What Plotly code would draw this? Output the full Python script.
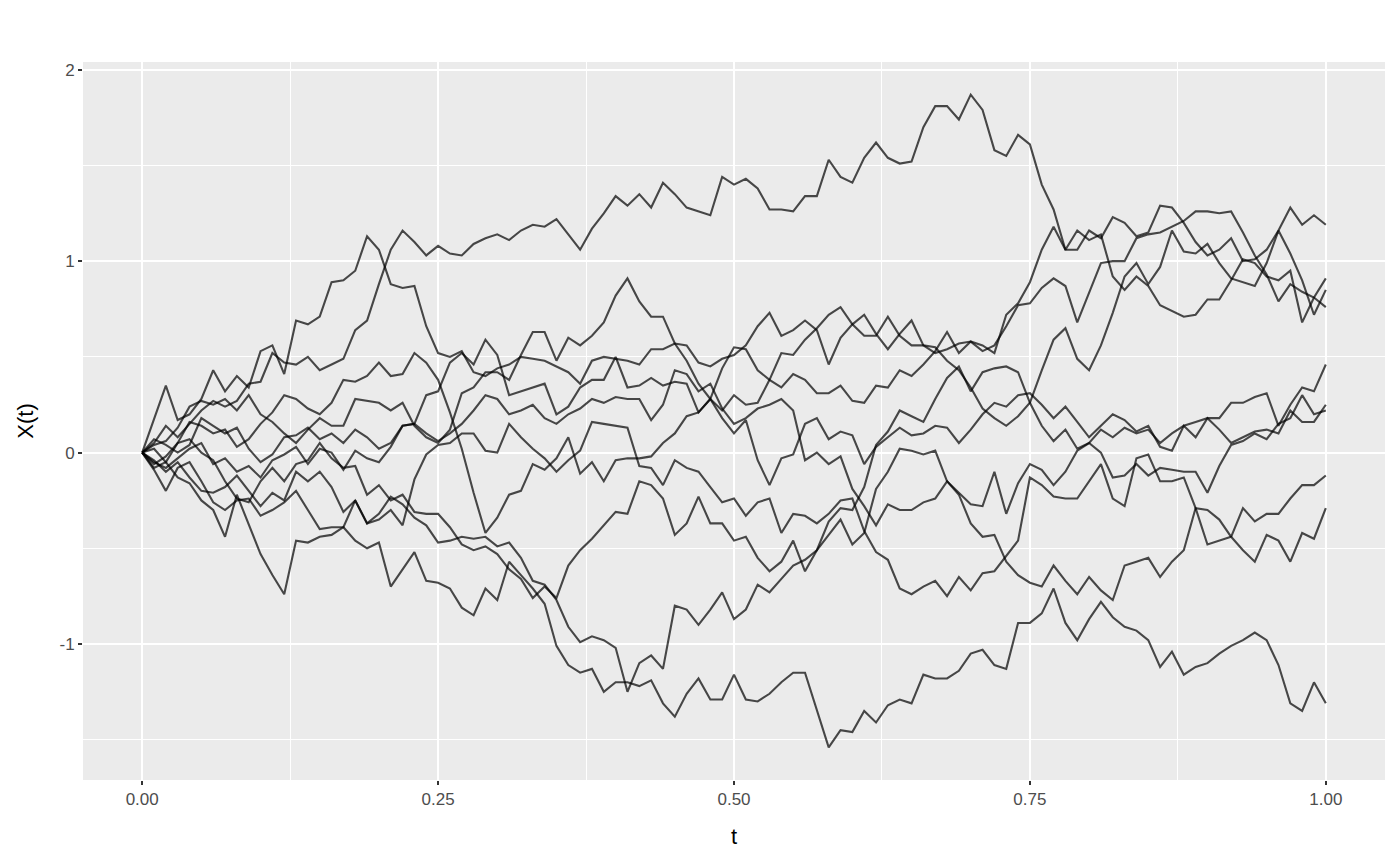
import plotly.graph_objects as go

# time grid
t = [i / 100 for i in range(101)]

path_01 = [0, 0.05, 0.14, 0.08, 0.15, 0.22, 0.27, 0.24, 0.27, 0.36, 0.37, 0.52, 0.47, 0.46, 0.50, 0.43,
           0.46, 0.49, 0.64, 0.69, 0.88, 1.06, 1.16, 1.10, 1.03, 1.08, 1.04, 1.03, 1.09, 1.12, 1.14, 1.11, 1.16, 1.19,
           1.18, 1.22, 1.14, 1.06, 1.17, 1.25, 1.34, 1.29, 1.35, 1.28, 1.41, 1.35, 1.28, 1.26, 1.24, 1.44, 1.40,
           1.43, 1.38, 1.27, 1.27, 1.26, 1.34, 1.34, 1.53, 1.44, 1.41, 1.54, 1.62, 1.54, 1.51, 1.52, 1.70, 1.81,
           1.81, 1.74, 1.87, 1.79, 1.58, 1.55, 1.66, 1.61, 1.40, 1.27, 1.06, 1.06, 1.16, 1.12, 1.23, 1.20, 1.13,
           1.15, 1.29, 1.28, 1.20, 1.10, 1.03, 1.06, 1.12, 1.00, 1.01, 1.06, 1.16, 1.28, 1.19, 1.24, 1.19]

path_02 = [0, 0.17, 0.35, 0.17, 0.20, 0.28, 0.43, 0.32, 0.40, 0.34, 0.53, 0.56, 0.41, 0.69, 0.67, 0.71,
           0.89, 0.90, 0.95, 1.13, 1.06, 0.88, 0.86, 0.87, 0.66, 0.52, 0.50, 0.53, 0.42, 0.40, 0.44, 0.46, 0.50, 0.49,
           0.48, 0.45, 0.42, 0.36, 0.48, 0.50, 0.49, 0.48, 0.46, 0.54, 0.54, 0.57, 0.56, 0.47, 0.45, 0.49, 0.51,
           0.56, 0.66, 0.73, 0.61, 0.64, 0.69, 0.64, 0.46, 0.60, 0.67, 0.72, 0.62, 0.54, 0.62, 0.69, 0.56, 0.55,
           0.48, 0.43, 0.34, 0.23, 0.18, 0.14, 0.19, 0.26, 0.43, 0.59, 0.65, 0.49, 0.43, 0.56, 0.73, 0.92, 0.99,
           0.88, 0.97, 1.16, 1.05, 1.04, 1.09, 0.99, 0.91, 0.89, 0.87, 0.99, 1.16, 1.04, 0.90, 0.72, 0.85]

path_03 = [0, 0.04, 0.06, 0.13, 0.24, 0.27, 0.25, 0.28, 0.22, 0.30, 0.20, 0.16, 0.10, 0.05, 0.12, 0.18,
           0.14, 0.14, 0.28, 0.27, 0.26, 0.22, 0.26, 0.14, 0.08, 0.05, 0.12, 0.31, 0.34, 0.42, 0.42, 0.38, 0.51, 0.63,
           0.63, 0.48, 0.60, 0.56, 0.61, 0.68, 0.82, 0.91, 0.79, 0.71, 0.71, 0.57, 0.48, 0.36, 0.28, 0.22, 0.30,
           0.25, 0.26, 0.38, 0.52, 0.51, 0.59, 0.65, 0.72, 0.76, 0.67, 0.61, 0.61, 0.71, 0.61, 0.56, 0.56, 0.52,
           0.54, 0.57, 0.58, 0.53, 0.56, 0.66, 0.77, 0.78, 0.86, 0.91, 0.87, 0.68, 0.84, 0.99, 1.00, 1.00, 1.12,
           1.14, 1.15, 1.18, 1.21, 1.26, 1.26, 1.25, 1.26, 1.15, 1.03, 0.93, 0.79, 0.88, 0.84, 0.81, 0.76]

path_04 = [0, -0.06, -0.02, 0.05, 0.16, 0.14, 0.10, 0.12, 0.03, 0.07, 0.15, 0.21, 0.30, 0.28, 0.23, 0.20,
           0.26, 0.38, 0.37, 0.40, 0.47, 0.40, 0.41, 0.52, 0.47, 0.38, 0.21, 0.02, -0.21, -0.42, -0.34, -0.22, -0.20, -0.06,
           -0.09, -0.03, 0.08, -0.11, -0.05, -0.15, -0.04, -0.03, -0.03, -0.02, 0.05, 0.10, 0.19, 0.21, 0.28, 0.44, 0.55,
           0.54, 0.43, 0.38, 0.34, 0.41, 0.38, 0.31, 0.31, 0.35, 0.27, 0.26, 0.35, 0.34, 0.43, 0.40, 0.46, 0.53,
           0.63, 0.52, 0.58, 0.56, 0.52, 0.72, 0.78, 0.89, 1.06, 1.18, 1.06, 1.16, 1.11, 1.14, 0.92, 0.85, 0.92,
           0.87, 0.77, 0.74, 0.71, 0.72, 0.80, 0.80, 0.90, 1.01, 0.99, 0.92, 0.90, 0.95, 0.68, 0.81, 0.91]

path_05 = [0, -0.08, -0.05, -0.13, -0.16, -0.25, -0.30, -0.44, -0.22, -0.38, -0.53, -0.64, -0.74, -0.46, -0.47, -0.44,
           -0.43, -0.39, -0.46, -0.50, -0.47, -0.70, -0.61, -0.52, -0.67, -0.68, -0.71, -0.81, -0.85, -0.71, -0.77, -0.57, -0.64, -0.71,
           -0.79, -1.01, -1.11, -1.15, -1.13, -1.25, -1.20, -1.20, -1.22, -1.19, -1.31, -1.38, -1.26, -1.18, -1.29, -1.29, -1.16,
           -1.29, -1.30, -1.26, -1.20, -1.15, -1.15, -1.35, -1.54, -1.45, -1.46, -1.35, -1.41, -1.32, -1.29, -1.31, -1.16, -1.18,
           -1.18, -1.14, -1.05, -1.03, -1.11, -1.13, -0.89, -0.89, -0.84, -0.71, -0.89, -0.98, -0.87, -0.78, -0.86, -0.91, -0.93,
           -0.98, -1.12, -1.04, -1.16, -1.12, -1.10, -1.05, -1.01, -0.98, -0.94, -0.98, -1.11, -1.31, -1.35, -1.20, -1.31]

path_06 = [0, -0.09, -0.20, -0.08, -0.05, -0.15, -0.26, -0.30, -0.25, -0.24, -0.33, -0.30, -0.26, -0.20, -0.30, -0.40,
           -0.39, -0.39, -0.25, -0.37, -0.32, -0.23, -0.27, -0.34, -0.38, -0.47, -0.46, -0.44, -0.45, -0.44, -0.49, -0.47, -0.55, -0.67,
           -0.69, -0.77, -0.91, -0.99, -0.96, -0.98, -1.02, -1.25, -1.10, -1.06, -1.13, -0.80, -0.82, -0.90, -0.82, -0.73, -0.87,
           -0.82, -0.69, -0.73, -0.66, -0.59, -0.56, -0.51, -0.43, -0.35, -0.48, -0.42, -0.19, -0.10, 0.02, 0.01, -0.01, 0.01,
           -0.15, -0.22, -0.37, -0.44, -0.43, -0.57, -0.64, -0.68, -0.70, -0.59, -0.67, -0.74, -0.65, -0.72, -0.77, -0.59, -0.57,
           -0.55, -0.65, -0.57, -0.51, -0.29, -0.30, -0.35, -0.44, -0.29, -0.36, -0.32, -0.32, -0.24, -0.17, -0.17, -0.12]

path_07 = [0, 0.02, -0.05, 0.05, 0.07, 0.00, -0.04, -0.15, -0.24, -0.26, -0.15, -0.08, -0.15, -0.06, -0.04, 0.05,
           -0.03, -0.08, -0.07, -0.22, -0.17, -0.25, -0.22, -0.31, -0.32, -0.32, -0.39, -0.48, -0.51, -0.49, -0.53, -0.61, -0.66, -0.76,
           -0.70, -0.76, -0.59, -0.51, -0.45, -0.38, -0.31, -0.32, -0.15, -0.17, -0.24, -0.43, -0.37, -0.23, -0.37, -0.37, -0.46,
           -0.44, -0.55, -0.62, -0.57, -0.46, -0.62, -0.51, -0.36, -0.29, -0.30, -0.18, 0.04, 0.11, 0.22, 0.19, 0.16, 0.28,
           0.39, 0.45, 0.32, 0.42, 0.44, 0.45, 0.42, 0.26, 0.14, 0.06, 0.12, 0.02, 0.05, 0.12, 0.08, 0.13, 0.10,
           0.12, 0.05, 0.10, 0.14, 0.16, 0.18, 0.18, 0.26, 0.26, 0.29, 0.31, 0.14, 0.25, 0.34, 0.32, 0.46]

path_08 = [0, -0.04, -0.10, -0.05, -0.13, -0.20, -0.21, -0.18, -0.12, -0.20, -0.28, -0.21, -0.25, -0.10, -0.15, -0.10,
           -0.18, -0.31, -0.25, -0.37, -0.35, -0.30, -0.38, -0.14, -0.01, 0.04, 0.05, 0.10, 0.10, 0.01, 0.00, 0.15, 0.08, 0.02,
           -0.03, -0.10, -0.04, 0.01, 0.16, 0.15, 0.14, 0.13, -0.07, -0.08, -0.17, -0.04, -0.08, -0.10, -0.18, -0.26, -0.24,
           -0.33, -0.26, -0.24, -0.42, -0.32, -0.33, -0.37, -0.32, -0.25, -0.24, -0.41, -0.52, -0.56, -0.71, -0.74, -0.70, -0.67,
           -0.75, -0.65, -0.72, -0.63, -0.62, -0.54, -0.46, -0.13, -0.17, -0.23, -0.24, -0.24, -0.15, -0.06, -0.24, -0.28, -0.03,
           -0.01, -0.15, -0.15, -0.13, -0.29, -0.48, -0.46, -0.44, -0.51, -0.57, -0.43, -0.46, -0.57, -0.42, -0.45, -0.29]

path_09 = [0, 0.07, 0.04, 0.00, 0.04, 0.18, 0.14, 0.10, 0.13, 0.02, -0.05, -0.01, 0.08, 0.09, 0.13, 0.07,
           0.10, 0.05, 0.12, 0.08, 0.02, 0.05, 0.14, 0.15, 0.10, 0.06, 0.10, 0.15, 0.22, 0.30, 0.28, 0.20, 0.22, 0.25,
           0.18, 0.15, 0.20, 0.23, 0.28, 0.26, 0.29, 0.28, 0.28, 0.17, 0.25, 0.43, 0.41, 0.32, 0.36, 0.23, 0.15,
           0.18, 0.23, 0.25, 0.28, 0.22, -0.04, 0.00, -0.06, -0.02, -0.19, -0.28, -0.38, -0.27, -0.30, -0.30, -0.26, -0.24,
           -0.15, -0.21, -0.27, -0.28, -0.10, -0.32, -0.16, -0.06, -0.09, -0.17, -0.10, 0.01, 0.05, 0.00, -0.13, -0.12, -0.06,
           -0.12, -0.08, -0.09, -0.10, -0.10, -0.21, -0.07, 0.04, 0.06, 0.10, 0.07, 0.15, 0.18, 0.30, 0.20, 0.22]

path_10 = [0, -0.05, -0.08, -0.03, 0.02, 0.05, -0.06, -0.03, -0.10, -0.07, -0.13, -0.04, -0.01, 0.03, -0.06, 0.02,
           0.00, -0.09, 0.01, -0.03, -0.05, 0.03, 0.14, 0.15, 0.30, 0.32, 0.47, 0.52, 0.46, 0.59, 0.51, 0.30, 0.32, 0.34,
           0.36, 0.20, 0.24, 0.34, 0.38, 0.38, 0.50, 0.34, 0.35, 0.39, 0.35, 0.37, 0.36, 0.21, 0.28, 0.18, 0.10,
           0.17, -0.04, -0.17, -0.03, -0.01, 0.15, 0.18, 0.07, 0.11, 0.09, -0.06, 0.03, 0.08, 0.13, 0.09, 0.10, 0.14,
           0.13, 0.05, 0.12, 0.20, 0.26, 0.24, 0.30, 0.31, 0.25, 0.18, 0.24, 0.16, 0.08, 0.14, 0.20, 0.17, 0.11,
           0.14, 0.03, 0.01, 0.14, 0.08, 0.18, 0.12, 0.05, 0.08, 0.11, 0.12, 0.10, 0.22, 0.16, 0.16, 0.25]

paths = [path_01, path_02, path_03, path_04, path_05, path_06, path_07, path_08, path_09, path_10]
for k, p in enumerate(paths):
    assert len(p) == len(t), (k + 1, len(p))

x_ticks = [0, 0.25, 0.5, 0.75, 1.0]
x_labels = ["0.00", "0.25", "0.50", "0.75", "1.00"]
y_ticks = [-1, 0, 1, 2]
y_labels = ["-1", "0", "1", "2"]

fig = go.Figure()
for p in paths:
    fig.add_trace(go.Scatter(x=t, y=p, mode="lines",
                             line=dict(color="rgba(0,0,0,0.7)", width=2.1),
                             showlegend=False, hoverinfo="skip"))

fig.update_layout(
    width=1400, height=866,
    margin=dict(l=83, r=15, t=62, b=86),
    paper_bgcolor="white", plot_bgcolor="#EBEBEB",
    font=dict(family="Liberation Sans, Arial, sans-serif", size=17, color="#4D4D4D"),
)
fig.update_xaxes(
    range=[-0.05, 1.05], tickvals=x_ticks, ticktext=x_labels,
    showgrid=True, gridcolor="white", gridwidth=2, zeroline=False, showline=False,
    ticks="outside", ticklen=4, tickwidth=1.5, tickcolor="#333333",
    minor=dict(tickvals=[0.125, 0.375, 0.625, 0.875], showgrid=True,
               gridcolor="white", gridwidth=1, ticks=""),
    title=dict(text="t", font=dict(size=22, color="black"), standoff=20),
)
fig.update_yaxes(
    range=[-1.7105, 2.0405], tickvals=y_ticks, ticktext=y_labels,
    showgrid=True, gridcolor="white", gridwidth=2, zeroline=False, showline=False,
    ticks="outside", ticklen=4, tickwidth=1.5, tickcolor="#333333",
    minor=dict(tickvals=[-1.5, -0.5, 0.5, 1.5], showgrid=True,
               gridcolor="white", gridwidth=1, ticks=""),
    title=dict(text="X(t)", font=dict(size=22, color="black"), standoff=19),
)

fig.write_html("out.html", config={"displayModeBar": False},
               post_script="document.body.style.margin='0';")
